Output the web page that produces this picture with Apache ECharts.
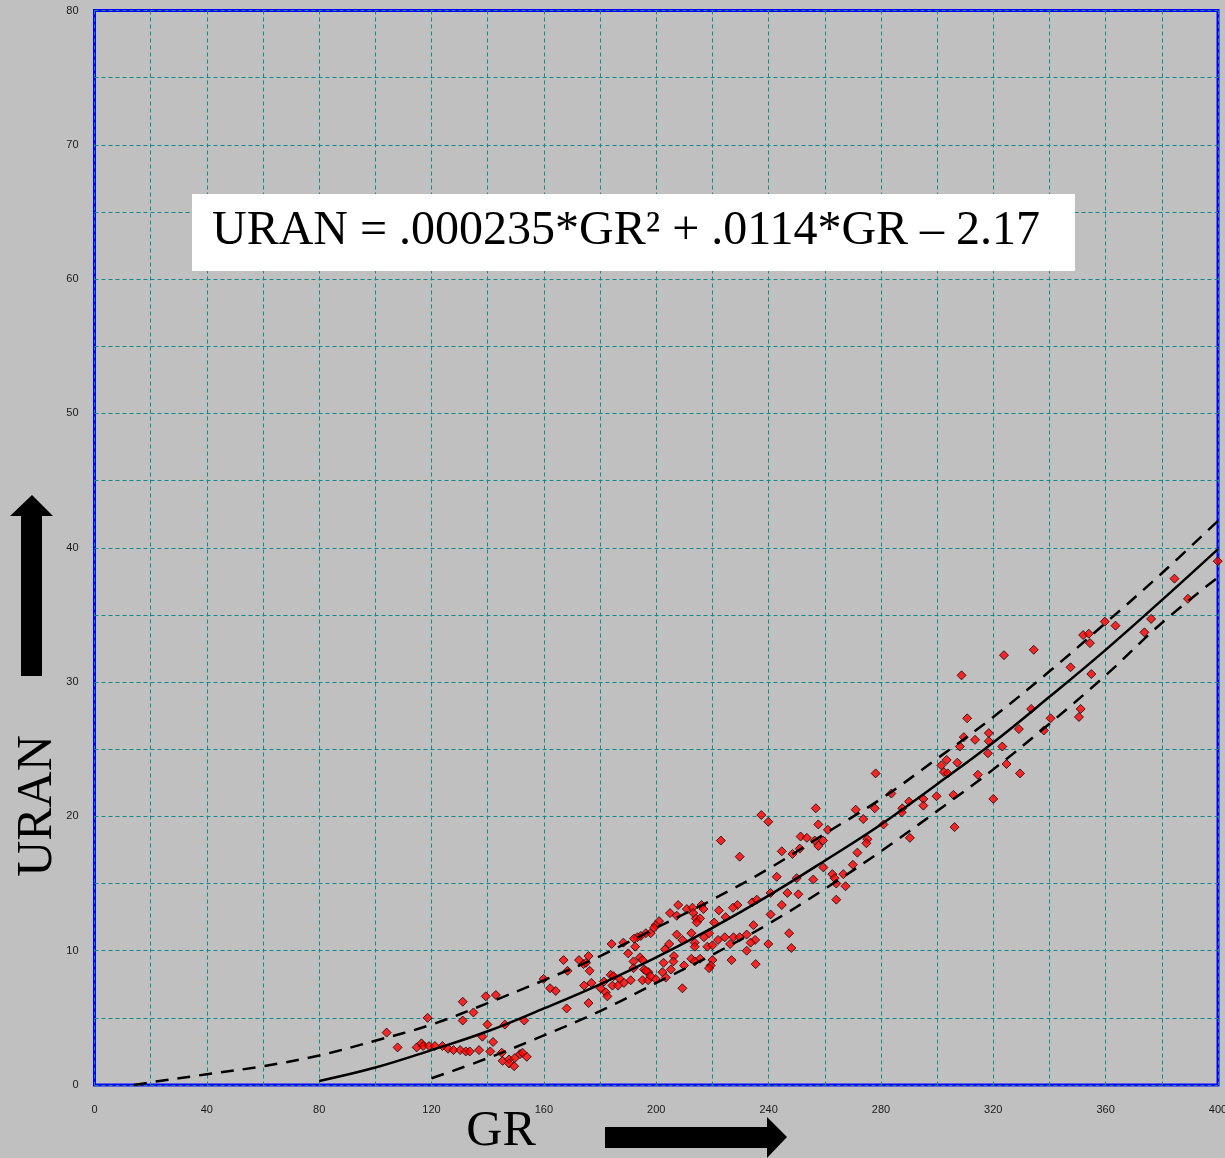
<!DOCTYPE html>
<html>
<head>
<meta charset="utf-8">
<title>URAN vs GR</title>
<script src="https://cdn.jsdelivr.net/npm/echarts@6/dist/echarts.min.js"></script>
<style>
  html, body { margin: 0; padding: 0; background: #c0c0c0; }
  #chart { width: 1225px; height: 1158px; }
</style>
</head>
<body>
<div id="chart"></div>
<script>
// scatter points (GR, URAN)
const scatterGR = [
  104.0, 107.9, 118.6, 114.7, 116.4, 117.0, 119.1, 121.2, 123.9, 125.9, 127.8, 130.2, 132.2, 133.6, 136.9, 140.9,
  131.1, 134.9, 131.1, 139.9, 138.1, 141.9, 139.3, 142.9, 146.1, 153.0, 145.0, 145.3, 147.6, 147.6, 149.4, 149.6,
  151.5, 152.4, 153.9,
  201.0, 199.8, 198.0, 196.3, 194.5, 193.3, 192.1, 184.1, 188.3, 192.5, 190.0, 194.2, 191.9, 167.0, 172.5, 175.9,
  174.1, 175.0, 176.3, 168.4, 159.9, 162.2, 164.2, 174.3, 176.9, 181.4, 183.8, 184.8, 187.0, 188.5, 190.9, 184.4,
  186.4, 180.2, 182.0, 182.6, 191.9, 195.7, 197.2, 195.1, 197.1, 199.8, 175.9, 168.1, 203.1,
  240.7, 234.2, 228.9, 227.3, 222.3, 240.7, 224.7, 220.6, 234.6, 207.8, 204.9, 207.3, 210.9, 212.9, 216.1, 216.8,
  213.2, 214.1, 215.6, 214.4, 199.2, 212.5, 207.3, 209.3, 204.6, 213.7, 217.0, 218.8, 222.0, 224.4, 227.5, 229.7,
  232.2, 235.2, 233.6, 239.9, 226.3, 218.2, 220.0, 213.7, 232.2, 226.8, 235.4, 206.3, 206.1, 202.6, 212.5, 215.6,
  213.7, 220.0, 209.9, 219.4, 218.8, 205.2, 202.2, 196.3, 195.1, 198.0, 203.4, 209.3,
  283.7, 277.8, 271.0, 273.7, 280.9, 256.8, 237.4, 239.9, 257.7, 261.1, 251.4, 253.6, 256.4, 259.4, 257.7, 251.1,
  244.7, 248.5, 229.7, 275.2, 274.8, 271.6, 270.0, 259.5, 262.7, 263.5, 266.6, 264.1, 267.4, 255.9, 250.0, 242.9,
  246.7, 250.6, 235.8, 244.7, 264.1, 223.0, 247.3, 248.1,
  399.9, 384.5, 389.3, 376.2, 373.8, 359.7, 363.5, 352.0, 354.0, 354.4, 354.9, 347.5, 334.4, 323.8, 308.7, 351.1,
  350.5, 340.4, 338.0, 333.5, 329.1, 323.2, 324.7, 329.5, 320.0, 318.4, 318.4, 318.1, 310.7, 309.5, 313.5, 308.1,
  303.4, 301.5, 307.2, 302.4, 303.8, 314.5, 299.8, 305.8, 306.2, 295.1, 295.1, 290.0, 287.6, 287.4, 278.1, 290.3
];
const scatterURAN = [
  3.9, 2.8, 5.0, 2.8, 3.1, 2.9, 2.9, 2.9, 2.9, 2.7, 2.6, 2.6, 2.5, 2.5, 2.6, 2.5,
  6.2, 5.4, 4.8, 4.5, 3.6, 3.2, 6.6, 6.7, 4.5, 4.8, 2.4, 1.8, 1.9, 1.6, 1.4, 2.0,
  2.3, 2.4, 2.1,
  12.2, 11.9, 11.3, 11.3, 11.1, 11.0, 10.9, 10.5, 10.6, 10.3, 9.8, 9.5, 9.2, 9.3, 9.3, 9.6,
  9.0, 9.1, 8.5, 8.5, 7.9, 7.2, 7.0, 7.4, 7.6, 7.7, 8.2, 8.1, 7.9, 7.6, 7.8, 7.4,
  7.4, 7.2, 6.9, 6.6, 8.7, 8.6, 8.4, 7.8, 7.8, 7.9, 6.1, 5.7, 10.1,
  14.3, 13.6, 13.4, 13.2, 13.0, 12.7, 12.5, 12.1, 11.9, 13.4, 12.8, 12.6, 13.1, 13.2, 13.4, 13.1,
  12.8, 12.4, 12.4, 12.1, 11.7, 11.3, 11.2, 10.8, 10.5, 10.6, 11.0, 11.3, 10.8, 11.0, 11.0, 11.0,
  11.2, 10.8, 10.6, 10.5, 10.5, 10.3, 10.4, 10.3, 10.0, 9.3, 9.0, 9.6, 9.2, 9.1, 9.4, 9.4,
  9.2, 9.3, 8.9, 8.9, 8.7, 8.6, 8.4, 8.5, 9.3, 8.1, 8.0, 7.2,
  21.7, 20.6, 20.5, 19.8, 19.4, 20.6, 20.1, 19.6, 19.4, 19.0, 18.5, 18.4, 18.2, 18.2, 17.8, 17.6,
  17.4, 17.2, 17.0, 18.3, 18.0, 17.3, 16.4, 16.2, 15.7, 15.4, 15.7, 15.0, 14.8, 15.3, 15.4, 15.5,
  14.3, 14.2, 13.8, 13.4, 13.8, 18.2, 11.3, 10.2,
  39.0, 37.7, 36.2, 34.7, 33.7, 34.5, 34.2, 33.5, 33.6, 32.9, 30.6, 31.1, 32.4, 32.0, 30.5, 28.0,
  27.4, 27.3, 26.4, 28.0, 26.5, 25.2, 23.9, 23.2, 21.3, 26.2, 25.6, 24.7, 27.3, 25.9, 25.7, 25.2,
  24.2, 23.8, 24.0, 23.3, 23.2, 23.1, 21.5, 21.6, 19.2, 21.3, 20.8, 21.1, 20.6, 20.3, 23.2, 18.4
];

// fitted curve (solid) and the two bounding curves (dashed)
const fitGR = [80, 100, 120, 140, 160, 180, 200, 220, 240, 260, 280, 300, 320, 340, 360, 380, 400];
const fitURAN = [0.3, 1.3, 2.6, 4.0, 5.7, 7.5, 9.5, 11.7, 14.1, 16.7, 19.4, 22.4, 25.5, 28.9, 32.4, 36.1, 39.9];
const upperGR = [14, 20, 40, 60, 80, 100, 120, 140, 160, 180, 200, 220, 240, 260, 280, 300, 320, 340, 360, 380, 400];
const upperURAN = [0, 0.2, 0.8, 1.4, 2.2, 3.3, 4.5, 6.1, 7.8, 9.6, 11.7, 13.8, 16.1, 18.7, 21.3, 24.3, 27.4, 30.8, 34.4, 38.1, 42.0];
const lowerGR = [120, 140, 160, 180, 200, 220, 240, 260, 280, 300, 320, 340, 360, 380, 400];
const lowerURAN = [0.5, 2.0, 3.7, 5.5, 7.6, 9.7, 12.0, 14.6, 17.4, 20.4, 23.5, 26.9, 30.5, 34.4, 37.8];

// axis ticks
const xLabelStep = 40;
const yLabelStep = 10;

const zip = (xs, ys) => xs.map((x, i) => [x, ys[i]]);

const chart = echarts.init(document.getElementById('chart'));

const gridLine = {
  show: true,
  lineStyle: { color: '#138a8a', width: 1, type: [4, 3] },
};
const tickFont = {
  color: '#1a1a1a',
  fontFamily: 'Liberation Sans',
  fontSize: 11,
};

const option = {
  backgroundColor: '#c0c0c0',
  animation: false,
  grid: {
    left: 94.5,
    top: 10.5,
    right: 7,
    bottom: 73,
    show: true,
    borderColor: '#0000ff',
    borderWidth: 3,
    backgroundColor: 'transparent',
    outerBoundsMode: 'none',
  },
  xAxis: {
    type: 'value',
    min: 0,
    max: 400,
    interval: 20,
    axisLine: { show: false },
    axisTick: { show: false },
    splitLine: gridLine,
    axisLabel: {
      ...tickFont,
      margin: 19,
      formatter: (v) => (v % xLabelStep === 0 ? String(v) : ''),
    },
  },
  yAxis: {
    type: 'value',
    min: 0,
    max: 80,
    interval: 5,
    axisLine: { show: false },
    axisTick: { show: false },
    splitLine: gridLine,
    axisLabel: {
      ...tickFont,
      margin: 16,
      formatter: (v) => (v % yLabelStep === 0 ? String(v) : ''),
    },
  },
  series: [
    {
      type: 'scatter',
      data: zip(scatterGR, scatterURAN),
      symbol: 'diamond',
      symbolSize: 9,
      itemStyle: { color: '#ff0000', borderColor: '#200000', borderWidth: 1 },
      z: 2,
    },
    {
      type: 'line',
      data: zip(fitGR, fitURAN),
      smooth: 0.4,
      showSymbol: false,
      lineStyle: { color: '#000', width: 2.5 },
      z: 3,
    },
    {
      type: 'line',
      data: zip(upperGR, upperURAN),
      smooth: 0.4,
      showSymbol: false,
      lineStyle: { color: '#000', width: 2.5, type: [13, 9] },
      z: 3,
    },
    {
      type: 'line',
      data: zip(lowerGR, lowerURAN),
      smooth: 0.4,
      showSymbol: false,
      lineStyle: { color: '#000', width: 2.5, type: [13, 9] },
      z: 3,
    },
  ],
  graphic: [
    // equation box
    {
      type: 'rect',
      left: 192,
      top: 194,
      shape: { width: 883, height: 77 },
      style: { fill: '#fff' },
      z: 10,
    },
    {
      type: 'text',
      left: 212,
      top: 207,
      style: {
        text: 'URAN = .000235*GR² + .0114*GR – 2.17',
        font: '48px "Liberation Serif"',
        fill: '#000',
      },
      z: 11,
    },
    // axis titles
    {
      type: 'text',
      x: 501,
      y: 1132,
      style: {
        text: 'GR',
        font: '50px "Liberation Serif"',
        fill: '#000',
        align: 'center',
        verticalAlign: 'middle',
      },
    },
    {
      type: 'text',
      x: 38,
      y: 806,
      rotation: Math.PI / 2,
      style: {
        text: 'URAN',
        font: '50px "Liberation Serif"',
        fill: '#000',
        align: 'center',
        verticalAlign: 'middle',
      },
    },
    // arrows
    {
      type: 'polygon',
      shape: {
        points: [[21, 676], [42, 676], [42, 516], [53, 516], [32, 495], [10, 516], [21, 516]],
      },
      style: { fill: '#000' },
    },
    {
      type: 'polygon',
      shape: {
        points: [[605, 1127], [767, 1127], [767, 1117], [787, 1137], [767, 1158], [767, 1148], [605, 1148]],
      },
      style: { fill: '#000' },
    },
  ],
};

chart.setOption(option);
</script>
</body>
</html>
